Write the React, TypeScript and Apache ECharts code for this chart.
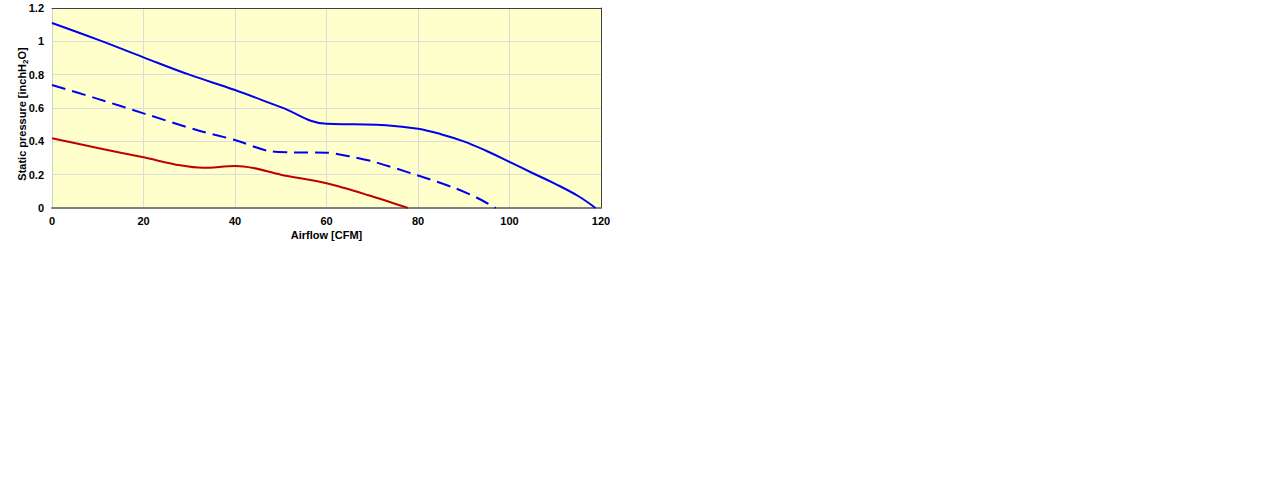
import React, { useEffect, useRef } from "react";
import * as echarts from "echarts";

const solidBlue: [number, number][] = [
  [0, 1.11], [10, 1.01], [20, 0.904], [30, 0.8], [40, 0.708], [50, 0.605],
  [60, 0.505], [66, 0.502], [73, 0.497], [80, 0.475], [85, 0.443], [90, 0.4], [95, 0.342],
  [100, 0.277], [105, 0.21], [110, 0.145], [115, 0.072], [118.8, 0],
];
const dashedBlue: [number, number][] = [
  [0, 0.738], [10, 0.655], [20, 0.568], [32, 0.465], [40, 0.408], [47, 0.344], [52, 0.334],
  [60, 0.332], [65, 0.31], [70, 0.28], [80, 0.195], [88, 0.12], [93, 0.06], [97, 0],
];
const redLine: [number, number][] = [
  [0, 0.418], [10, 0.36], [20, 0.304], [28, 0.256], [33, 0.241], [40, 0.252], [44, 0.24],
  [50, 0.2], [60, 0.148], [69, 0.078], [77.8, 0],
];
const xTitle = "Airflow [CFM]";
const yTitleParts = ["Static pressure [inchH", "2", "O]"];

export default function App() {
  const ref = useRef<HTMLDivElement>(null);
  useEffect(() => {
    document.body.style.margin = "0";
    const chart = echarts.init(ref.current!, null, { renderer: "svg" });
    const font = "Arial, 'Liberation Sans', sans-serif";
    chart.setOption({
      animation: false,
      grid: {
        left: 52, top: 8, width: 549, height: 200,
        show: true, backgroundColor: "#FFFFCC", borderWidth: 0,
      },
      graphic: [
        {
          type: "text",
          x: 22,
          y: 114,
          rotation: Math.PI / 2,
          style: {
            text: `{a|${yTitleParts[0]}}{s|${yTitleParts[1]}}{a|${yTitleParts[2]}}`,
            align: "center",
            verticalAlign: "middle",
            rich: {
              a: { fontFamily: font, fontWeight: "bold", fontSize: 11, fill: "#000" },
              s: { fontFamily: font, fontWeight: "bold", fontSize: 8, fill: "#000", padding: [6, 0, 0, 0] },
            },
          },
        },
      ],
      xAxis: [
        {
          type: "value", min: 0, max: 120, interval: 20,
          name: xTitle, nameLocation: "middle", nameGap: 21,
          nameTextStyle: { fontFamily: font, fontWeight: "bold", fontSize: 11, color: "#000" },
          axisLine: { show: true, lineStyle: { color: "#808080", width: 2 } },
          axisTick: { show: false },
          axisLabel: { fontFamily: font, fontWeight: "bold", fontSize: 11, color: "#000", margin: 7 },
          splitLine: { show: true, lineStyle: { color: "#dcdcdc", width: 1 } },
        },
        {
          type: "value", min: 0, max: 120, interval: 20, position: "top",
          axisLine: { show: true, onZero: false, lineStyle: { color: "#404040", width: 1 } },
          axisTick: { show: false }, axisLabel: { show: false }, splitLine: { show: false },
        },
      ],
      yAxis: [
        {
          type: "value", min: 0, max: 1.2, interval: 0.2,
          axisLine: { show: true, lineStyle: { color: "#d0d0d0", width: 1 } },
          axisTick: { show: false },
          axisLabel: { fontFamily: font, fontWeight: "bold", fontSize: 11, color: "#000", margin: 8 },
          splitLine: { show: true, lineStyle: { color: "#dcdcdc", width: 1 } },
        },
        {
          type: "value", min: 0, max: 1.2, interval: 0.2, position: "right",
          axisLine: { show: true, onZero: false, lineStyle: { color: "#404040", width: 1 } },
          axisTick: { show: false }, axisLabel: { show: false }, splitLine: { show: false },
        },
      ],
      series: [
        {
          type: "line", data: solidBlue, smooth: 0.4, showSymbol: false,
          lineStyle: { color: "#0000EE", width: 2 },
        },
        {
          type: "line", data: dashedBlue, smooth: 0.3, showSymbol: false,
          lineStyle: { color: "#0000EE", width: 2, type: [14, 7] },
        },
        {
          type: "line", data: redLine, smooth: 0.3, showSymbol: false,
          lineStyle: { color: "#C00000", width: 2 },
        },
      ],
    });
    return () => chart.dispose();
  }, []);
  return <div ref={ref} style={{ width: 1280, height: 486 }} />;
}
